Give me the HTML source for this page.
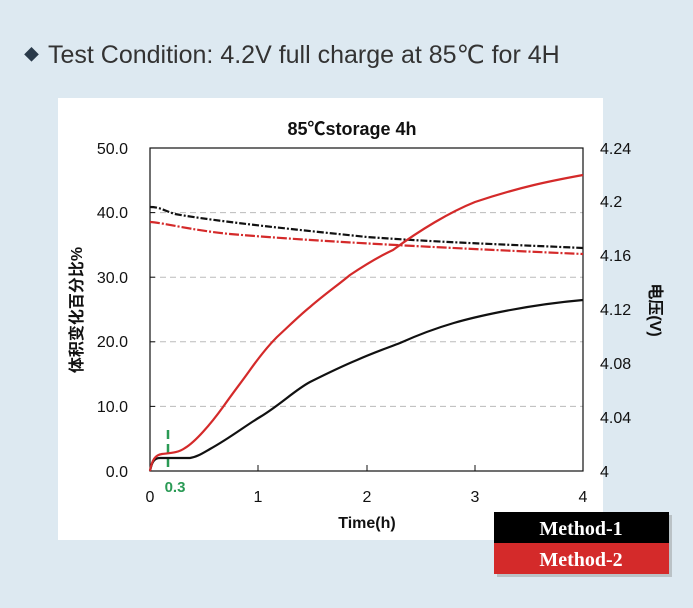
<!DOCTYPE html>
<html><head><style>
body{margin:0;width:693px;height:608px;background:#dde9f1;overflow:hidden;font-family:"Liberation Sans","Noto Sans CJK SC",sans-serif;}
</style></head><body>
<svg width="693" height="608" xmlns="http://www.w3.org/2000/svg" style="position:absolute;left:0;top:0">
<rect x="0" y="0" width="693" height="608" fill="#dde9f1"/>
<text x="24" y="60" font-size="15" fill="#2a3a4a">◆</text>
<text x="48" y="63" font-size="25" fill="#333" font-family="Liberation Sans, sans-serif">Test Condition: 4.2V full charge at 85℃ for 4H</text>
<rect x="58" y="98" width="545" height="442" fill="#ffffff"/>
<text x="352" y="135" font-size="18" font-weight="bold" text-anchor="middle" fill="#111">85℃storage 4h</text>
<g stroke="#bbb" stroke-dasharray="6,4" stroke-width="1">
<line x1="150" y1="212.6" x2="583" y2="212.6"/><line x1="150" y1="277.2" x2="583" y2="277.2"/>
<line x1="150" y1="341.8" x2="583" y2="341.8"/><line x1="150" y1="406.4" x2="583" y2="406.4"/>
</g>
<rect x="150" y="148" width="433" height="323" fill="none" stroke="#111" stroke-width="1.2"/>
<g stroke="#111" stroke-width="1"><line x1="258" y1="471" x2="258" y2="465"/><line x1="367" y1="471" x2="367" y2="465"/><line x1="475" y1="471" x2="475" y2="465"/><line x1="150" y1="212.6" x2="155" y2="212.6"/><line x1="150" y1="277.2" x2="155" y2="277.2"/><line x1="150" y1="341.8" x2="155" y2="341.8"/><line x1="150" y1="406.4" x2="155" y2="406.4"/></g>
<g font-size="16" fill="#111" text-anchor="end">
<text x="128" y="154">50.0</text><text x="128" y="218">40.0</text><text x="128" y="283">30.0</text><text x="128" y="347">20.0</text><text x="128" y="412">10.0</text><text x="128" y="477">0.0</text></g>
<g font-size="16" fill="#111">
<text x="600" y="154">4.24</text><text x="600" y="207">4.2</text><text x="600" y="261">4.16</text><text x="600" y="315">4.12</text><text x="600" y="369">4.08</text><text x="600" y="423">4.04</text><text x="600" y="477">4</text></g>
<g font-size="16" fill="#111" text-anchor="middle">
<text x="150" y="502">0</text><text x="258" y="502">1</text><text x="367" y="502">2</text><text x="475" y="502">3</text><text x="583" y="502">4</text></g>
<text x="367" y="528" font-size="16" font-weight="bold" text-anchor="middle" fill="#111">Time(h)</text>
<text transform="translate(82,310) rotate(-90)" font-size="16" font-weight="bold" text-anchor="middle" fill="#111">体积变化百分比%</text>
<text transform="translate(650,310) rotate(90)" font-size="16" font-weight="bold" text-anchor="middle" fill="#111">电压(V)</text>
<line x1="168" y1="430" x2="168" y2="467" stroke="#2a9a55" stroke-width="2.5" stroke-dasharray="9,5"/>
<text x="175" y="492" font-size="15" font-weight="bold" text-anchor="middle" fill="#2a9a55">0.3</text>
<path d="M150,207 C160,207 165,211 175,214 C220,222 300,230 367,237 C450,243 520,245 583,248" fill="none" stroke="#111" stroke-width="2.2" stroke-dasharray="7,2,2,2"/>
<path d="M150,222 C165,223 190,230 230,234 C300,240 400,246 583,254" fill="none" stroke="#d42a2a" stroke-width="2.2" stroke-dasharray="10,2,2,2"/>
<path d="M150,471 C152,462 154,458 160,458 L190,458 C197,457 203,453 210,449 C230,438 245,426 260,417 C280,405 295,390 310,382 C330,372 345,365 357,360 C375,352 390,347 400,343 C440,325 470,318 500,312 C530,306 560,302 583,300" fill="none" stroke="#111" stroke-width="2.2"/>
<path d="M150,471 C152,460 155,455 162,454 C170,453 178,453 185,448 C195,442 210,425 223,407 C235,390 243,380 250,370 C260,356 268,346 277,337 C290,325 300,315 310,307 C325,294 338,285 350,275 C365,265 380,256 393,250 C420,230 450,212 475,202 C520,187 550,181 583,175" fill="none" stroke="#d42a2a" stroke-width="2.2"/>
<rect x="497" y="515" width="175" height="62" fill="#888" opacity="0.4"/>
<rect x="494" y="512" width="175" height="31" fill="#000"/>
<rect x="494" y="543" width="175" height="31" fill="#d42a2a"/>
<text x="581" y="535" font-size="20" font-weight="bold" text-anchor="middle" fill="#fff" font-family="Liberation Serif, serif">Method-1</text>
<text x="581" y="566" font-size="20" font-weight="bold" text-anchor="middle" fill="#fff" font-family="Liberation Serif, serif">Method-2</text>
</svg>
</body></html>
